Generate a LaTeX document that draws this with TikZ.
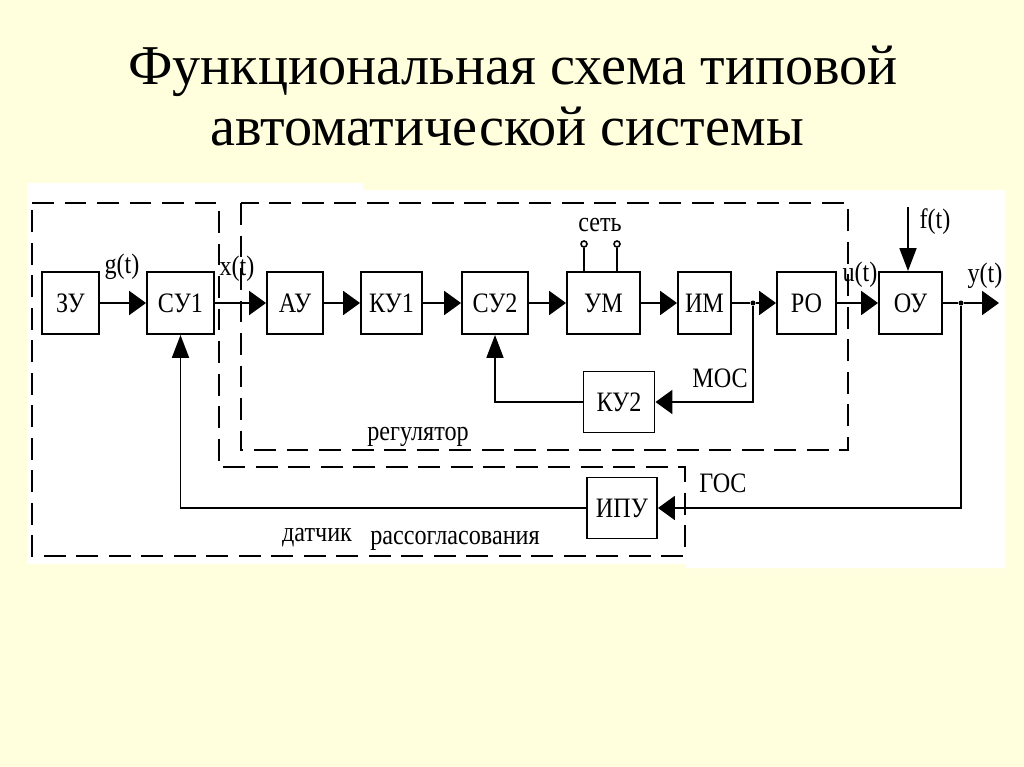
\documentclass[tikz,border=0pt]{standalone}
\usepackage{fontspec}
\setmainfont{Liberation Serif}
\newfontfamily\dfont[FakeStretch=0.86]{Liberation Serif}
\usetikzlibrary{arrows.meta}
\definecolor{bgyellow}{RGB}{255,255,222}
\def\pxu{0.02cm}
\begin{document}
\begin{tikzpicture}[x=0.02cm,y=-0.02cm,
  blk/.style={draw, line width=1.1pt, minimum height=62*\pxu, inner sep=0pt,
    font=\dfont\fontsize{16}{19}\selectfont},
  wire/.style={line width=1.1pt},
  ha/.style={wire, -{Triangle[length=9.6pt,width=13.6pt]}},
  va/.style={wire, -{Triangle[length=13pt,width=9.6pt]}},
  dbox/.style={line width=1.1pt, dash pattern=on 12.5pt off 6pt},
  lbl/.style={font=\dfont\fontsize{16}{19}\selectfont, inner sep=0pt},
  title/.style={font=\fontsize{32}{38}\selectfont, inner sep=0pt, anchor=base},
  dot/.style={circle, fill, inner sep=0pt, minimum size=5*\pxu},
  term/.style={circle, draw, line width=0.9pt, fill=white, inner sep=0pt, minimum size=6*\pxu}]
% background
\fill[bgyellow] (0,0) rectangle (1024,767);
\useasboundingbox (0,0) rectangle (1024,767);
\fill[white] (27,183) -- (363,183) -- (363,190) -- (1005,190) -- (1005,568)
  -- (686,568) -- (686,564) -- (27,564) -- cycle;
% title
\node[title] (t1) at (513,85) {Функциональная схема типовой};
\node[title] (t2) at (507,145) {автоматической системы};
% dashed boxes
\draw[dbox] (32,203) -- (219,203) -- (219,467) -- (685,467) -- (685,556) -- (32,556) -- cycle;
\draw[dbox] (241,203) rectangle (848,450);
% blocks
\node[blk, minimum width=57*\pxu] (zu)  at (70.5,303) {ЗУ};
\node[blk, minimum width=67*\pxu] (su1) at (180.5,303) {СУ1};
\node[blk, minimum width=56*\pxu] (au)  at (295,303) {АУ};
\node[blk, minimum width=61*\pxu] (ku1) at (391.5,303) {КУ1};
\node[blk, minimum width=66*\pxu] (su2) at (495,303) {СУ2};
\node[blk, minimum width=73*\pxu] (um)  at (603.5,303) {УМ};
\node[blk, minimum width=53*\pxu] (im)  at (704.5,303) {ИМ};
\node[blk, minimum width=59*\pxu] (ro)  at (806.5,303) {РО};
\node[blk, minimum width=63*\pxu] (ou)  at (910.5,303) {ОУ};
\node[blk, minimum width=71*\pxu, minimum height=61*\pxu] (ku2) at (619,402) {КУ2};
\node[blk, minimum width=70*\pxu, minimum height=61*\pxu] (ipu) at (622,508) {ИПУ};
% junctions and free ends
\node[dot] (m) at (753,303) {};
\node[dot] (g) at (961,303) {};
\coordinate (yend) at (999,303);
\coordinate (fstart) at (908,207);
\node[term] (n1) at (584,244) {};
\node[term] (n2) at (617,244) {};
% main chain
\draw[ha] (zu) -- (su1);
\draw[ha] (su1) -- (au);
\draw[ha] (au) -- (ku1);
\draw[ha] (ku1) -- (su2);
\draw[ha] (su2) -- (um);
\draw[ha] (um) -- (im);
\draw[wire] (im) -- (m);
\draw[ha] (m) -- (ro);
\draw[ha] (ro) -- (ou);
\draw[wire] (ou) -- (g);
\draw[ha] (g) -- (yend);
\draw[va] (fstart) -- (fstart |- ou.north);
\draw[wire] (n1) -- (n1 |- um.north);
\draw[wire] (n2) -- (n2 |- um.north);
% feedbacks
\draw[ha] (m) |- (ku2.east);
\draw[va] (ku2.west) -| (su2.south);
\draw[ha] (g) |- (ipu.east);
\draw[va] (ipu.west) -| (su1.south);
% labels
\node[lbl] (lg) at (122,267) {g(t)};
\node[lbl] (lx) at (237,269) {x(t)};
\node[lbl] (ls) at (600,225) {сеть};
\node[lbl] (lf) at (935,222) {f(t)};
\node[lbl] (lu) at (860,275) {u(t)};
\node[lbl] (ly) at (985,276) {y(t)};
\node[lbl] (lm) at (720,378) {МОС};
\node[lbl] (lgos) at (723,483) {ГОС};
\node[lbl] (lr) at (418,437) {регулятор};
\node[lbl] (ld) at (317,538) {датчик};
\node[lbl] (lrs) at (455,541) {рассогласования};
\end{tikzpicture}
\end{document}
